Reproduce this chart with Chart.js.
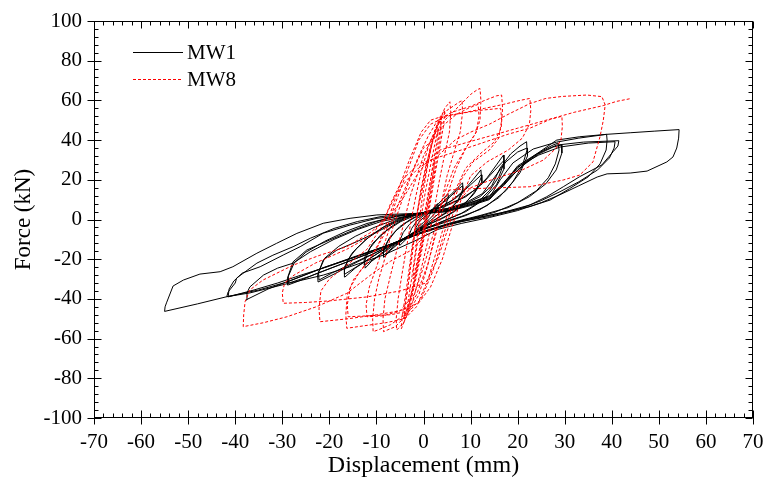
<!DOCTYPE html>
<html>
<head>
<meta charset="utf-8">
<script src="https://cdn.jsdelivr.net/npm/chart.js@4.4.1/dist/chart.umd.min.js"></script>
<style>
  html, body { margin: 0; padding: 0; background: #fff; }
  #wrap { width: 765px; height: 480px; }
</style>
</head>
<body>
<div id="wrap"><canvas id="chart"></canvas></div>
<script>
/* ---------- axes ---------- */
const xRange = [-70, 70];
const yRange = [-100, 100];
const xTitle = "Displacement (mm)";
const yTitle = "Force (kN)";
const seriesNames = ["MW1", "MW8"];

/* ---------- MW1: displacement (mm), force (kN) ---------- */
const mw1 = [
  [0,0],[0.8,2.5],[1.5,4.5],[1.6,3.5],[1,1],[0,-1.5],[-0.8,-3],[-1.5,-5],[-1.6,-4],[-1,-1.5],[0,1],
  [1,3],[2,5.5],[3,8],[3.1,6.5],[2.4,3],[1.2,0],[0,-2.5],[-1,-4.5],[-2,-7],[-3,-9.5],[-3.1,-8],[-2.5,-4.5],[-1.5,-1],[0,2],
  [1.5,4],[3,7.5],[4.2,10.5],[5.2,13],[5.3,11],[4.5,6.5],[3,2.5],[1.5,-0.5],[0,-3],[-1.8,-6],[-3.5,-9.5],[-5,-13],[-5.1,-11],[-4.3,-6.5],[-3,-2.5],[-1.5,0.5],[0,2.5],
  [2,5],[4,8.5],[6,13],[7.5,16.5],[8.3,18.5],[8.4,15.5],[7.4,10],[5.6,5],[3.5,1.5],[1.5,-1.5],[0,-3.5],[-2.5,-7],[-5,-11.5],[-7,-15.5],[-8.4,-19],[-8.5,-16],[-7.6,-11],[-5.8,-5.5],[-3.6,-1.5],[-1.5,1.5],[0,3],
  [2.5,5.5],[5,10],[7,14.5],[8.3,17],[8.4,14],[7.2,9],[5,3.5],[2.5,0],[0,-3.5],[-3,-8],[-6,-13],[-8.4,-18],[-8.5,-15],[-7.2,-9],[-5,-3.5],[-2.5,0.5],[0,3],
  [3,5.5],[6,9.5],[8.5,14.5],[10.5,20],[12.2,25],[12.3,21.5],[11.2,15],[9.2,9],[6.6,4],[4,0.5],[1.5,-2],[0,-4],[-3,-8],[-6,-12.5],[-9,-17.5],[-11,-21],[-12.4,-24.5],[-12.5,-21],[-11.4,-14.5],[-9.2,-8],[-6.5,-3],[-4,0.5],[-1.5,2.5],[0,3.5],
  [3.5,6],[7,11],[10,17.5],[12.3,22.5],[12.4,19],[10.6,12.5],[8,6.5],[5,2],[2,-1.5],[0,-4],[-3.5,-8.5],[-7,-13.5],[-10,-19],[-12.5,-23],[-12.6,-19.5],[-10.8,-12],[-7.8,-5.5],[-4.8,-1],[-1.8,2],[0,3.5],
  [4,6.5],[8,10.5],[11,15],[13.5,21],[15.5,27.5],[17,32.5],[17.1,28.5],[16,21.5],[14,14.5],[11,7.5],[8,3],[5,0],[2,-3],[0,-4.5],[-4,-9.5],[-8,-14.5],[-12,-20.5],[-14.5,-24.5],[-16.7,-29],[-16.8,-25.5],[-16,-20],[-14.2,-14.5],[-11.2,-8],[-8,-3],[-5,0.5],[-2,2.5],[0,3.5],
  [4.5,6.5],[9,11.5],[12.5,18],[15,24.5],[17,29.5],[17.1,25.5],[15.5,17.5],[12.5,9.5],[9,4],[5.5,0.5],[2,-3],[0,-4.5],[-4.5,-10],[-9,-16],[-13,-22],[-16.7,-27.5],[-16.8,-24],[-15.2,-17],[-12.2,-10],[-8.6,-4],[-5,0],[-2,2.5],[0,3.5],
  [5,5.5],[9,8],[12,11.5],[14.5,17],[16.3,26],[18.5,33],[20.5,37],[21.9,39.2],[22,35],[21,27],[19,19],[16,11],[12,5],[8,1.5],[4,-1.5],[0,-5],[-5,-10.5],[-10,-16.5],[-15,-22.5],[-19,-27.5],[-22.4,-31.5],[-22.5,-28],[-21.3,-20.4],[-18.4,-15.4],[-14.2,-11.2],[-10,-6.5],[-6,-1.5],[-3,1.5],[0,3.5],
  [5,5.5],[9,8.5],[12.5,13],[15,21],[17.5,29],[20,34],[22,36],[22.1,32],[20.5,23.5],[17.5,14.5],[13.5,7],[9,2],[4.5,-1.5],[0,-5],[-5,-10.5],[-10,-16.5],[-15,-22],[-19.5,-27],[-22.2,-30.5],[-22.3,-26.5],[-21,-19.5],[-18,-13.5],[-14.5,-8.5],[-10.5,-4],[-6,0],[-2.5,2.5],[0,3.5],
  [5,5],[10,8.5],[14,11.5],[17,17],[20,25],[23,31],[25.5,35],[27.5,37.5],[28.6,38.5],[28.8,35],[28,28],[26.5,21],[24,14.5],[20,8.5],[15,3.5],[10,0.5],[5,-2.5],[0,-6],[-6,-11.5],[-12,-17.5],[-18,-23],[-23,-27.5],[-26.5,-31],[-28.8,-33],[-28.9,-29.5],[-27.7,-21.3],[-24.8,-15.4],[-19.9,-10.3],[-15,-5.5],[-10,-1],[-5,2],[0,3.5],
  [5,5],[10,8.5],[14,12],[17.5,19],[21,27],[24.5,33],[27.5,36.5],[29.3,37.5],[29.4,33.5],[28.2,25],[26,18],[22.5,11.5],[18,6],[12,2],[6,-1.5],[0,-6],[-6,-11.5],[-12,-17.5],[-18,-23],[-24,-28.5],[-28.6,-32],[-28.7,-28.5],[-27.5,-22],[-25,-16.5],[-21,-11],[-16.5,-6],[-12,-2],[-6,1.5],[0,3.5],
  [5,4.5],[10,8],[14,11],[16.3,20],[19,28.5],[23.3,35.5],[28.3,39],[33,41],[38.9,42.9],[39,40],[38.8,35],[37.5,28],[35,21.5],[31,15.5],[26.9,9.8],[22.6,6.5],[16.3,3.3],[10,0],[5.6,-2.5],[0,-6.5],[-7,-12.5],[-14,-18.5],[-20,-23.5],[-26,-28],[-31,-32],[-36,-35.5],[-41.5,-39],[-41.3,-35],[-40.3,-31],[-38.5,-27],[-34.7,-23.8],[-29.8,-17.9],[-26.2,-13.7],[-21.3,-6.9],[-15.6,-2.8],[-9.9,0.6],[-4,2],[0,3],
  [5,4.5],[10,7.5],[14,10.5],[17,18],[20,27],[24,33],[28.3,37.5],[34,39],[41.5,39.7],[41.3,37],[40.3,34.2],[37.9,27.5],[33.2,21.6],[29.7,16.5],[26.2,11.5],[22.6,7.3],[16,3],[9,0],[5,-2.5],[0,-6.5],[-7,-12.5],[-14,-18.5],[-21,-24],[-28,-30.5],[-33,-35],[-37.7,-40.5],[-37.5,-37],[-36.9,-34],[-34,-28],[-31,-24.5],[-27.7,-22],[-24,-16.2],[-19,-10],[-14,-5],[-9,-1],[-4,1.5],[0,3],
  [5,4],[10,7.5],[14,10.5],[17,18.5],[20,26.5],[24.5,32.5],[29,36.5],[35,38.5],[40.7,39.2],[40.5,36],[39.5,31],[37,25],[33,19],[29,14],[25,9.5],[20,5],[14,1.5],[8,-1],[3,-4],[0,-6.5],[-7,-12.5],[-15,-19],[-22,-25],[-29,-31.5],[-35,-35.5],[-41.8,-38.9],[-41.5,-36.5],[-40,-32],[-39.7,-29.5],[-35.4,-22],[-32,-18],[-27.7,-13.7],[-24,-9.4],[-19,-4.5],[-14,-1],[-9,1.5],[-4,2.5],[0,3],
  [5,4],[10,7],[14,10],[17,17.5],[20,26],[24,33],[28.3,40],[33.2,41.7],[38.9,42.9],[43.9,43.7],[49,44.5],[54.3,45.3],[54.2,41],[53.8,36],[53,31.5],[51.7,29],[47.5,24.4],[43.9,23.4],[39,23],[36.9,21.4],[33,17],[29,12.5],[25,8.5],[20,4.5],[14,1],[8,-2],[3,-5],[-1.4,-10.3],[-8.5,-17.9],[-15.6,-23.8],[-21.3,-28],[-28.4,-32],[-36.9,-37],[-41.8,-38.9],[-48,-42.5],[-55,-46.3],[-54.9,-44],[-54.6,-42],[-53.2,-33.5],[-51,-30.5],[-47.5,-27.5],[-43.2,-26.3],[-40.5,-23.8],[-35.4,-17],[-31.2,-12],[-26.9,-7],[-21.3,-1.9],[-15.6,0.6],[-9.9,2.3],[-1.4,3.1]
];

/* ---------- MW8: displacement (mm), force (kN) ---------- */
const mw8 = [
  [0,0],[0.9,12],[1.8,24],[2.3,30],[2.2,25],[1.2,12],[0.4,0],[-0.6,-12],[-1.6,-24],[-2.2,-30],[-2.1,-25],[-1.3,-12],[-0.6,0],[0.4,14],
  [1.4,26],[2.4,38],[3,44],[3.2,46],[2.9,40],[1.9,26],[1,12],[0.2,-2],[-0.8,-16],[-2,-30],[-3,-42],[-3.4,-45],[-3.2,-40],[-2.4,-28],[-1.6,-14],[-1,-2],[-0.2,12],
  [0.8,26],[1.8,38],[3,48],[3.8,52],[3.6,46],[2.6,32],[1.6,16],[0.6,0],[-0.6,-16],[-1.8,-30],[-3,-42],[-4,-48],[-4.2,-50],[-4,-44],[-3.2,-32],[-2.4,-18],[-1.8,-6],[-1,8],
  [0.2,22],[1.4,36],[2.6,46],[3.8,50],[3.7,44],[2.9,32],[1.8,16],[0.8,2],[-0.4,-14],[-1.8,-30],[-3,-42],[-4,-50],[-3.9,-44],[-3.3,-34],[-2.7,-22],[-2.1,-10],[-1.3,4],
  [0,18],[1.4,34],[2.6,46],[3.6,52],[4.5,55],[4.3,48],[3.3,34],[2.1,18],[1,2],[-0.4,-16],[-1.8,-32],[-3.2,-46],[-4.7,-55],[-4.5,-48],[-3.8,-38],[-3,-24],[-2.2,-10],[-1.3,4],[-0.5,16],
  [0.6,28],[2,40],[3.5,50],[4.5,56],[5.6,59.3],[5.8,54],[5.5,44],[4.6,34],[3.4,20],[2.2,4],[0.8,-12],[-0.8,-28],[-2.4,-42],[-4.2,-52],[-5.7,-55.7],[-5.8,-50],[-5.4,-40],[-4.6,-28],[-3.6,-14],[-2.6,0],[-1.6,12],
  [-0.5,24],[1.2,38],[3,48],[5,55],[7.5,59],[8.2,60],[8.3,54],[7.8,44],[6.5,34],[5,22],[3.8,8],[2.4,-8],[0.8,-24],[-1,-38],[-3.5,-48],[-6,-54],[-8.5,-56.5],[-8.6,-50],[-8.2,-40],[-7,-28],[-5.5,-14],[-4.2,-2],[-2.8,12],[-1.4,22],
  [0,32],[2,42],[4.5,50],[7.5,57],[10,63],[11.5,65.5],[12,66],[12.2,60],[12,50],[11,43],[9,36],[7,26],[5,12],[3,-4],[1,-22],[-1.5,-38],[-4,-48],[-7,-53],[-9.5,-55.5],[-10.7,-56.5],[-10.8,-50],[-10.4,-40],[-9.5,-30],[-8,-18],[-6.5,-4],[-4.5,10],[-2,26],[0,36],
  [2,40],[4.5,48],[7,53],[9.5,56],[11.6,58],[11.8,52],[11.2,44],[9,36],[6.5,26],[4,10],[2,-8],[0,-24],[-2,-38],[-5,-46],[-8.5,-48.5],[-12,-49],[-12.2,-43],[-11.5,-34],[-10,-24],[-8,-10],[-6,4],[-3.5,18],[-1,32],[1,42],
  [3,50],[6,54],[10,57],[13,60],[15.5,62.3],[16.6,62.7],[16.8,56],[16.5,46],[15,39],[12,33],[9,26],[7,16],[5,2],[3,-14],[1,-30],[-1.5,-44],[-4,-50],[-8,-52],[-12.5,-53.5],[-16.3,-54.8],[-16.5,-48],[-16.2,-38],[-14.8,-30],[-12,-22],[-9.5,-12],[-7.5,0],[-5.5,14],[-3,30],[-0.5,44],[1.5,50],
  [4,52],[8,53.5],[12,55],[16.4,56],[16.6,50],[16,41],[14,35],[10.5,29],[8,20],[6,6],[4,-10],[2,-26],[-0.5,-40],[-3,-46],[-7,-48],[-11.5,-48.5],[-16,-49],[-16.2,-43],[-15.5,-34],[-13.5,-26],[-10.5,-17],[-8,-6],[-6,8],[-3.5,24],[-1,40],[1.5,48],
  [5,52],[9,54],[13,56],[17,58],[20.5,60],[22.6,61],[22.8,55],[22.5,48],[21,41],[18,35],[13.5,29],[10,22],[8,10],[6,-4],[4,-20],[1.5,-34],[-1,-42],[-5,-46],[-10,-48],[-16,-50],[-22,-51.5],[-22.2,-45],[-21.8,-36],[-20,-30],[-16.3,-23],[-12,-15],[-9,-4],[-7,8],[-4.5,20],[-1,28],
  [3.5,31.6],[8,35],[13,39],[18,43],[22.6,46],[27,50.5],[29.4,52],[29.5,47],[29.2,40],[28,35.5],[25.5,30],[21,25],[15,20.5],[10,16],[7,8],[5,-6],[3,-20],[0.5,-32],[-5,-36],[-12,-39],[-20,-41],[-25,-41.8],[-29.8,-42.2],[-30,-37],[-29.5,-32],[-27.5,-28],[-23,-22],[-16.3,-15],[-11,-8],[-8,2],[-6,12],[-3.5,20],[-1,26],
  [3,32],[6.7,40],[10,44],[14,48],[18,53],[22.6,58.4],[26,61],[29.5,62],[34.7,62.7],[37.9,61.9],[38.6,57.7],[38.2,50],[37.5,41.7],[36,29],[33.2,22.4],[29.7,19.9],[22.6,16.5],[16.3,16],[10,15.5],[5.6,14.9],[3,4],[0.5,-8],[-3,-16],[-7,-21],[-10.7,-27],[-16.3,-37.2],[-22.7,-43.9],[-29,-49],[-34,-52],[-38.3,-54],[-38.2,-48],[-37.9,-41.4],[-36.9,-35.5],[-34.1,-30.5],[-27.7,-23],[-22,-18],[-16.3,-13.7],[-11.4,-6.8],[-7,2],[-4,12],[-1.5,22],[1,30],
  [3.5,35],[8,38],[14,42],[20,46],[26,50],[32,54],[38.2,57.4],[41,59.5],[44.2,61]
];

const toPoints = (pairs) => pairs.map(p => ({ x: p[0], y: p[1] }));

const serif = "'Liberation Serif', 'Times New Roman', serif";

/* ---------- frame, inside ticks and legend ---------- */
const frameAndLegend = {
    id: "frameAndLegend",
    afterDatasetsDraw(chart) {
        const { ctx, chartArea: a, scales } = chart;
        const x = scales.x, y = scales.y;
        const L = Math.round(a.left) + 0.5, R = Math.round(a.right) - 0.5;
        const T = Math.round(a.top) + 0.5, B = Math.round(a.bottom) - 0.5;
        ctx.save();
        ctx.strokeStyle = "#000";
        ctx.lineWidth = 1;
        ctx.strokeRect(L, T, R - L, B - T);
        ctx.beginPath();
        for (let v = xRange[0]; v <= xRange[1]; v += 2) {
            const px = Math.round(x.getPixelForValue(v)) + 0.5;
            const major = v % 10 === 0;
            const len = major ? 7 : 4;
            ctx.moveTo(px, B + (major ? 7 : 0)); ctx.lineTo(px, B - len);
            ctx.moveTo(px, T); ctx.lineTo(px, T + len);
        }
        for (let v = yRange[0]; v <= yRange[1]; v += 4) {
            const py = Math.round(y.getPixelForValue(v)) + 0.5;
            const major = v % 20 === 0;
            const len = major ? 7 : 4;
            ctx.moveTo(L - (major ? 7 : 0), py); ctx.lineTo(L + len, py);
            ctx.moveTo(R, py); ctx.lineTo(R - len, py);
        }
        ctx.stroke();

        // legend in the upper left of the plot
        ctx.font = "21px " + serif;
        ctx.textBaseline = "middle";
        ctx.fillStyle = "#000";
        chart.data.datasets.forEach((ds, i) => {
            const ly = 52 + i * 27;
            ctx.beginPath();
            ctx.strokeStyle = ds.borderColor;
            ctx.setLineDash(ds.borderDash || []);
            ctx.moveTo(133, ly + 0.5);
            ctx.lineTo(183, ly + 0.5);
            ctx.stroke();
            ctx.setLineDash([]);
            ctx.fillText(ds.label, 187, ly + 1);
        });
        ctx.restore();
    }
};

new Chart(document.getElementById("chart"), {
    type: "scatter",
    data: {
        datasets: [
            {
                label: seriesNames[0],
                data: toPoints(mw1),
                showLine: true,
                borderColor: "#000000",
                borderWidth: 1,
                pointRadius: 0,
                tension: 0,
                order: 2,
            },
            {
                label: seriesNames[1],
                data: toPoints(mw8),
                showLine: true,
                borderColor: "#ff0000",
                borderWidth: 1,
                borderDash: [3, 2],
                pointRadius: 0,
                tension: 0,
                order: 1,
            },
        ],
    },
    options: {
        responsive: true,
        maintainAspectRatio: false,
        animation: false,
        layout: { padding: { left: 0, right: 12, top: 21, bottom: 0 } },
        plugins: {
            legend: { display: false },
            tooltip: { enabled: false },
        },
        scales: {
            x: {
                type: "linear",
                min: xRange[0],
                max: xRange[1],
                grid: { display: false, drawTicks: false },
                border: { display: false },
                ticks: {
                    stepSize: 10,
                    autoSkip: false,
                    maxRotation: 0,
                    padding: 12,
                    color: "#000",
                    font: { family: serif, size: 21 },
                },
                title: {
                    display: true,
                    text: xTitle,
                    color: "#000",
                    font: { family: serif, size: 24 },
                    padding: { top: 0, bottom: 0 },
                },
                afterFit: (s) => { s.height = 62; s.paddingLeft = 0; s.paddingRight = 0; },
            },
            y: {
                type: "linear",
                min: yRange[0],
                max: yRange[1],
                grid: { display: false, drawTicks: false },
                border: { display: false },
                ticks: {
                    stepSize: 20,
                    autoSkip: false,
                    padding: 12,
                    color: "#000",
                    font: { family: serif, size: 21 },
                },
                title: {
                    display: true,
                    text: yTitle,
                    color: "#000",
                    font: { family: serif, size: 23 },
                    padding: { top: 10, bottom: 0 },
                },
                afterFit: (s) => { s.width = 94; s.paddingTop = 0; s.paddingBottom = 0; },
            },
        },
    },
    plugins: [frameAndLegend],
});
</script>
</body>
</html>
